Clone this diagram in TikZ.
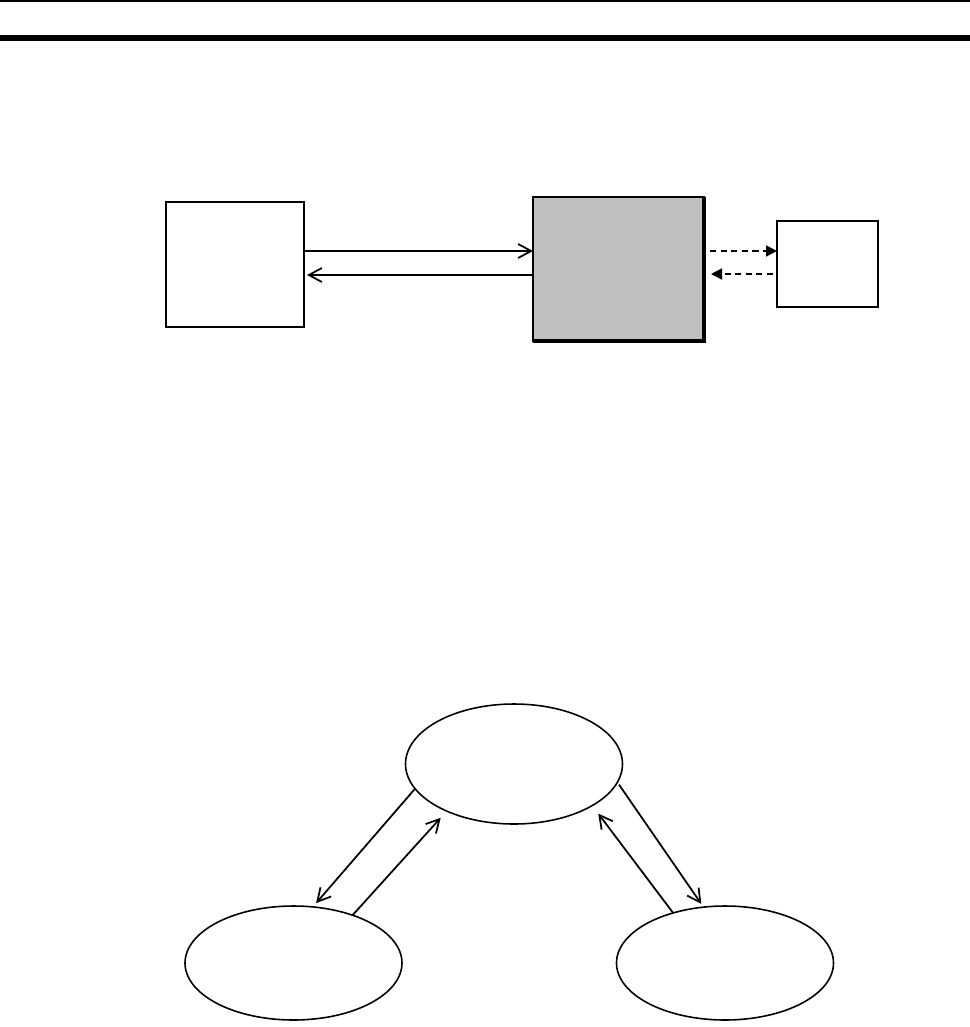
\documentclass[tikz,border=0pt]{standalone}
\usepackage{tikz}
\usetikzlibrary{positioning, arrows.meta, shapes.geometric, calc}

\begin{document}
\begin{tikzpicture}[
    unit/.style={rectangle, draw=black, line width=0.9pt, inner sep=0pt, outer sep=0pt},
    host/.style={unit, minimum width=2.76cm, minimum height=2.5cm},
    ctrl/.style={unit, fill=black!25, minimum width=3.42cm, minimum height=2.88cm},
    dev/.style={unit, minimum width=2.02cm, minimum height=1.72cm},
    station/.style={ellipse, draw=black, line width=0.9pt, inner sep=0pt, outer sep=0pt, minimum width=4.34cm, minimum height=2.28cm},
    link/.style={line width=1pt, -{Straight Barb[length=2.6mm, width=2.8mm]}},
    aux/.style={line width=1pt, dash pattern=on 3.6pt off 2.4pt, -{Triangle[length=2.2mm, width=2.2mm]}}
]
\useasboundingbox (0,0) rectangle (19.4,-20.54);
\draw[line width=1.1pt] (0,-0.02) -- (19.4,-0.02);
\draw[line width=0.12cm] (0,-0.76) -- (19.4,-0.76);

\node[host] (pc) at (4.70,-5.29) {};
\node[ctrl] (plc) at (12.37,-5.38) {};
\node[dev] (io) at (16.55,-5.28) {};
\draw[line width=1.8pt] (plc.north east) -- (plc.south east) -- (plc.south west);

\draw[link] ([yshift=2.7mm]pc.east) -- ([yshift=2.7mm]pc.east -| plc.west);
\draw[link, shorten >=0.6mm] ([yshift=-2.1mm]pc.east -| plc.west) -- ([yshift=-2.1mm]pc.east);
\draw[aux, shorten <=1.2mm] ([yshift=2.6mm]io.west -| plc.east) -- ([yshift=2.6mm]io.west);
\draw[aux, shorten <=0.8mm, shorten >=1.4mm] ([yshift=-2mm]io.west) -- ([yshift=-2mm]io.west -| plc.east);

\node[station, minimum height=2.4cm] (master) at (10.28,-15.28) {};
\node[station] (slave1) at (5.87,-19.26) {};
\node[station] (slave2) at (14.50,-19.26) {};

\draw[link, shorten >=1mm] (master.194) -- (slave1.71);
\draw[link, shorten >=1.8mm] (slave1.39) -- (master.215);
\draw[link, shorten <=0.6mm, shorten >=0.8mm] (master.350) -- (slave2.111);
\draw[link, shorten >=2mm] (slave2.136) -- (master.332);
\end{tikzpicture}
\end{document}
